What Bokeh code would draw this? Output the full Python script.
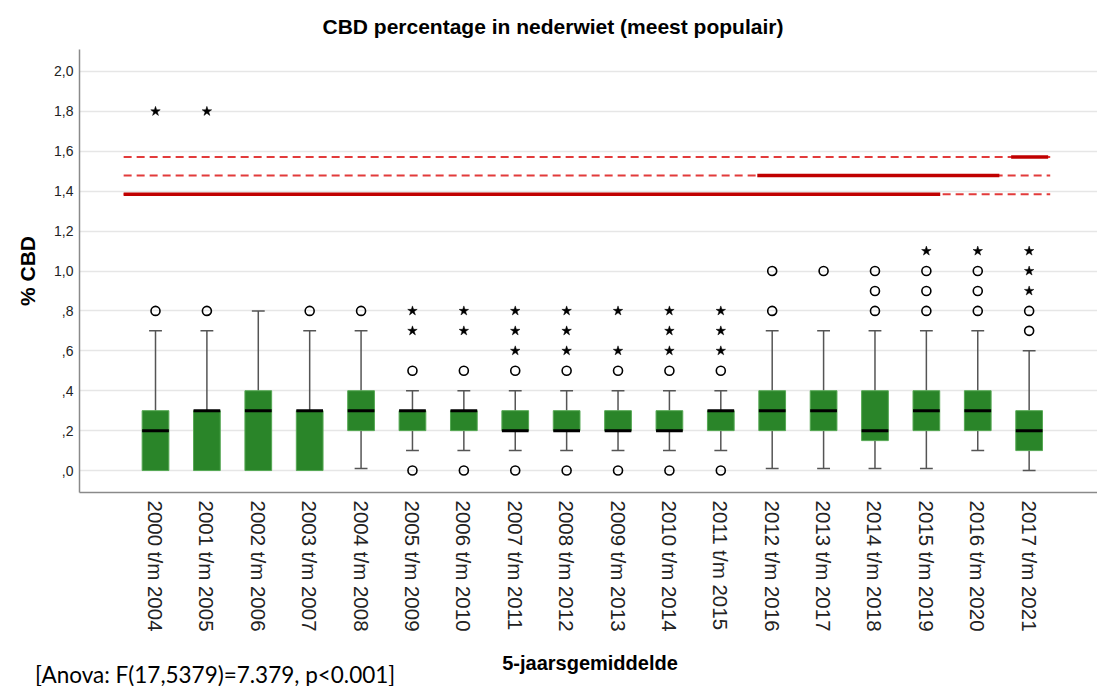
import math
from bokeh.plotting import figure
from bokeh.layouts import column
from bokeh.models import Range1d, FixedTicker, CustomJSTickFormatter, ColumnDataSource, Div
from bokeh.embed import file_html
from bokeh.resources import INLINE

categories = ["2000 t/m 2004", "2001 t/m 2005", "2002 t/m 2006", "2003 t/m 2007",
              "2004 t/m 2008", "2005 t/m 2009", "2006 t/m 2010", "2007 t/m 2011",
              "2008 t/m 2012", "2009 t/m 2013", "2010 t/m 2014", "2011 t/m 2015",
              "2012 t/m 2016", "2013 t/m 2017", "2014 t/m 2018", "2015 t/m 2019",
              "2016 t/m 2020", "2017 t/m 2021"]
q1 = [0.0, 0.0, 0.0, 0.0, 0.2, 0.2, 0.2, 0.2, 0.2, 0.2, 0.2, 0.2, 0.2, 0.2, 0.15, 0.2, 0.2, 0.1]
median = [0.2, 0.3, 0.3, 0.3, 0.3, 0.3, 0.3, 0.2, 0.2, 0.2, 0.2, 0.3, 0.3, 0.3, 0.2, 0.3, 0.3, 0.2]
q3 = [0.3, 0.3, 0.4, 0.3, 0.4, 0.3, 0.3, 0.3, 0.3, 0.3, 0.3, 0.3, 0.4, 0.4, 0.4, 0.4, 0.4, 0.3]
whisker_low = [0.0, 0.0, 0.0, 0.0, 0.01, 0.1, 0.1, 0.1, 0.1, 0.1, 0.1, 0.1, 0.01, 0.01, 0.01, 0.01, 0.1, 0.0]
whisker_high = [0.7, 0.7, 0.8, 0.7, 0.7, 0.4, 0.4, 0.4, 0.4, 0.4, 0.4, 0.4, 0.7, 0.7, 0.7, 0.7, 0.7, 0.6]
outliers_circle = [[0.8], [0.8], [], [0.8], [0.8], [0.5, 0.0], [0.5, 0.0], [0.5, 0.0],
                   [0.5, 0.0], [0.5, 0.0], [0.5, 0.0], [0.5, 0.0], [0.8, 1.0], [1.0],
                   [0.8, 0.9, 1.0], [0.8, 0.9, 1.0], [0.8, 0.9, 1.0], [0.7, 0.8]]
outliers_star = [[1.8], [1.8], [], [], [], [0.7, 0.8], [0.7, 0.8], [0.6, 0.7, 0.8],
                 [0.6, 0.7, 0.8], [0.6, 0.8], [0.6, 0.7, 0.8], [0.6, 0.7, 0.8], [], [], [],
                 [1.1], [1.1], [0.9, 1.0, 1.1]]
y_ticks = [0.0, 0.2, 0.4, 0.6, 0.8, 1.0, 1.2, 1.4, 1.6, 1.8, 2.0]

# reference lines (level, full extent, solid part) in category-position units
ref_levels = [1.385, 1.478, 1.571]
ref_line_start = [-0.62, -0.62, -0.62]
ref_line_end = [17.41, 17.41, 17.41]
ref_solid_start = [-0.62, 11.71, 16.65]
ref_solid_end = [15.27, 16.42, 17.37]

title_text = "CBD percentage in nederwiet (meest populair)"
x_title = "5-jaarsgemiddelde"
y_title = "% CBD"
note_text = "[Anova: F(17,5379)=7.379, p&lt;0.001]"

FONT = "Liberation Sans"
xs = list(range(len(categories)))

p = figure(width=1097, height=640, output_backend="svg", toolbar_location=None,
           x_range=Range1d(-1.479, 18.33), y_range=Range1d(-0.11, 2.11),
           min_border_left=79, min_border_right=0, min_border_top=48, min_border_bottom=148)
p.outline_line_color = None
p.background_fill_color = "white"
p.border_fill_color = "white"

p.xgrid.grid_line_color = None
p.ygrid.grid_line_color = "#e6e6e6"
p.ygrid.grid_line_width = 1.5

# title
p.title.text = title_text
p.title.align = "left"
p.title.offset = 243
p.title.standoff = 24
p.title.text_font = FONT
p.title.text_font_size = "21px"
p.title.text_font_style = "bold"
p.title.text_color = "black"

# axes
p.yaxis.ticker = FixedTicker(ticks=y_ticks)
p.yaxis.formatter = CustomJSTickFormatter(code="""
    var s = tick.toFixed(1).replace('.', ',');
    if (s.charAt(0) == '0') { s = s.substring(1); }
    return s;
""")
p.xaxis.ticker = FixedTicker(ticks=xs)
p.xaxis.major_label_overrides = {i: c for i, c in enumerate(categories)}
p.xaxis.major_label_orientation = -math.pi / 2
for ax in (p.xaxis, p.yaxis):
    ax.axis_line_color = "#8a8a8a"
    ax.axis_line_width = 1.5
    ax.major_tick_line_color = None
    ax.minor_tick_line_color = None
    ax.major_tick_out = 0
    ax.major_tick_in = 0
    ax.major_label_text_font = FONT
    ax.major_label_text_color = "#222222"
    ax.axis_label_text_font = FONT
    ax.axis_label_text_font_style = "bold"
    ax.axis_label_text_color = "black"
p.yaxis.major_label_text_font_size = "14px"
p.yaxis.major_label_standoff = 6
p.yaxis.axis_label = y_title
p.yaxis.axis_label_text_font_size = "21px"
p.yaxis.axis_label_standoff = 12
p.xaxis.major_label_text_font_size = "20.5px"
p.xaxis.major_label_standoff = 8

# reference lines
p.segment(x0=ref_line_start, x1=ref_line_end, y0=ref_levels, y1=ref_levels,
          line_color="#e23b3b", line_width=2, line_dash="8 5")
p.segment(x0=ref_solid_start, x1=ref_solid_end, y0=ref_levels, y1=ref_levels,
          line_color="#c00000", line_width=3.5)

# whiskers
src = ColumnDataSource(dict(x=xs, q1=q1, med=median, q3=q3, lo=whisker_low, hi=whisker_high,
                            xl=[x - 0.26 for x in xs], xr=[x + 0.26 for x in xs],
                            cl=[x - 0.125 for x in xs], cr=[x + 0.125 for x in xs]))
WC = "#555555"
p.segment(x0="x", x1="x", y0="q3", y1="hi", source=src, line_color=WC, line_width=1.5)
p.segment(x0="cl", x1="cr", y0="hi", y1="hi", source=src, line_color=WC, line_width=1.5)
lo_idx = [i for i in xs if whisker_low[i] < q1[i]]
p.segment(x0=[xs[i] for i in lo_idx], x1=[xs[i] for i in lo_idx],
          y0=[whisker_low[i] for i in lo_idx], y1=[q1[i] for i in lo_idx],
          line_color=WC, line_width=1.5)
p.segment(x0=[xs[i] - 0.125 for i in lo_idx], x1=[xs[i] + 0.125 for i in lo_idx],
          y0=[whisker_low[i] for i in lo_idx], y1=[whisker_low[i] for i in lo_idx],
          line_color=WC, line_width=1.5)

# boxes
p.vbar(x="x", width=0.52, bottom="q1", top="q3", source=src,
       fill_color="#2a8529", line_color="#56a854", line_width=1)
p.segment(x0="xl", x1="xr", y0="med", y1="med", source=src, line_color="black", line_width=3)

# outliers
cx = [xs[i] for i in xs for _ in outliers_circle[i]]
cy = [v for i in xs for v in outliers_circle[i]]
p.scatter(cx, cy, marker="circle", size=9, fill_color=None, line_color="black", line_width=1.6)
sx = [xs[i] for i in xs for _ in outliers_star[i]]
sy = [v for i in xs for v in outliers_star[i]]
p.scatter(sx, sy, marker="star", size=10, fill_color="black", line_color="black", line_width=0.5)

# footer strip: x-axis title and ANOVA note
footer_html = (
    '<div style="position:relative;width:1097px;height:46px;background:white;">'
    '<span style="position:absolute;left:590px;top:13px;transform:translateX(-50%);'
    'white-space:nowrap;font-family:\'Liberation Sans\';font-weight:bold;font-size:20px;'
    'line-height:20px;color:black;">' + x_title + '</span>'
    '<span style="position:absolute;left:35px;top:23px;white-space:nowrap;'
    'font-family:Lato;font-size:22.5px;line-height:24px;color:black;">' + note_text + '</span>'
    '</div>'
)
footer = Div(text=footer_html, width=1097, height=46, margin=(0, 0, 0, 0))

layout = column(p, footer, spacing=0)
open("out.html", "w").write(file_html(layout, INLINE))
